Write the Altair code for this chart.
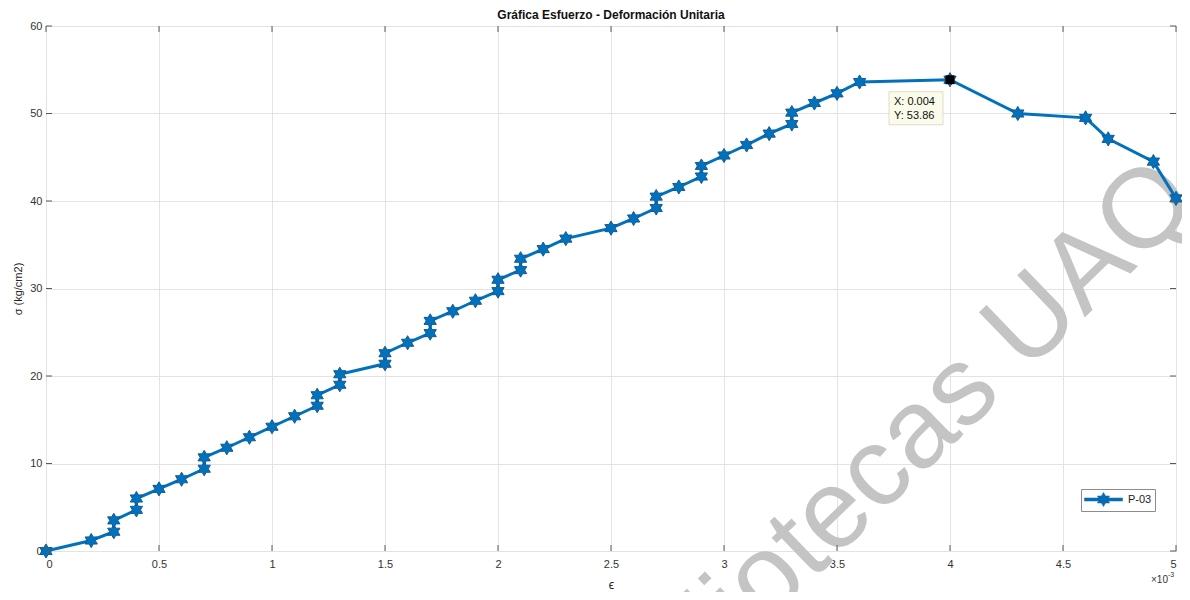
import altair as alt
import pandas as pd

# ---- data (strain in units of 1e-3) ----
STRAIN = [0, 0.2, 0.3, 0.3, 0.4, 0.4, 0.5, 0.6, 0.7, 0.7, 0.8, 0.9, 1.0, 1.1,
          1.2, 1.2, 1.3, 1.3, 1.5, 1.5, 1.6, 1.7, 1.7, 1.8, 1.9, 2.0, 2.0, 2.1,
          2.1, 2.2, 2.3, 2.5, 2.6, 2.7, 2.7, 2.8, 2.9, 2.9, 3.0, 3.1, 3.2, 3.3,
          3.3, 3.4, 3.5, 3.6, 4.0, 4.3, 4.6, 4.7, 4.9, 5.0]
STRESS = [0, 1.2, 2.2, 3.5, 4.7, 6.0, 7.1, 8.2, 9.4, 10.7, 11.8, 13.0, 14.2, 15.4,
          16.6, 17.8, 19.0, 20.2, 21.4, 22.6, 23.8, 24.9, 26.3, 27.4, 28.6, 29.7, 31.0, 32.1,
          33.4, 34.5, 35.7, 36.9, 38.0, 39.2, 40.5, 41.6, 42.8, 44.0, 45.2, 46.4, 47.7, 48.8,
          50.1, 51.2, 52.3, 53.6, 53.86, 50.0, 49.5, 47.1, 44.5, 40.3]
SERIES = "P-03"
X_TICKS = [0, 0.5, 1, 1.5, 2, 2.5, 3, 3.5, 4, 4.5, 5]
Y_TICKS = [0, 10, 20, 30, 40, 50, 60]
TIP_X = [4.0]
TIP_Y = [53.86]
TITLE = "Gráfica Esfuerzo - Deformación Unitaria"
X_TITLE = "ϵ"
Y_TITLE = "σ (kg/cm2)"
EXP_BASE = "×10"
EXP_POWER = "-3"
WATERMARK = "Bibliotecas UAQ"

W, H = 1130, 525
BLUE = "#0072BD"
AXC = "#5a5a5a"
FONT = "Liberation Sans"

STAR = ("M0,-1L0.2887,-0.5L0.866,-0.5L0.577,0L0.866,0.5L0.2887,0.5L0,1"
        "L-0.2887,0.5L-0.866,0.5L-0.577,0L-0.866,-0.5L-0.2887,-0.5Z")
# legend symbol: line segment (38px) with a star (r = 7px) at its centre, size 196 -> unit 7px
LEG = ("M-2.714,-0.214H2.714V0.214H-2.714Z "
       "M0,-1L0.2887,-0.5L0.866,-0.5L0.577,0L0.866,0.5L0.2887,0.5L0,1"
       "L-0.2887,0.5L-0.866,0.5L-0.577,0L-0.866,-0.5L-0.2887,-0.5Z")

df = pd.DataFrame({"idx": list(range(len(STRAIN))), "e": STRAIN, "s": STRESS,
                   "serie": [SERIES] * len(STRAIN)})
tip = pd.DataFrame({"e": TIP_X, "s": TIP_Y,
                    "tx": [f"X: {v / 1000:g}" for v in TIP_X],
                    "ty": [f"Y: {v}" for v in TIP_Y]})
xt = pd.DataFrame({"v": X_TICKS})
yt = pd.DataFrame({"v": Y_TICKS})

xs = alt.Scale(domain=[0, 5], nice=False, zero=False)
ys = alt.Scale(domain=[0, 60], nice=False, zero=False)

xaxis = alt.Axis(values=X_TICKS, format="~g", title=X_TITLE, grid=True, tickSize=0,
                 domain=False, labelPadding=7, titlePadding=10, labelFontSize=11,
                 titleFontSize=12, titleFontWeight="normal")
yaxis = alt.Axis(values=Y_TICKS, format="~g", title=Y_TITLE, grid=True, tickSize=0,
                 domain=False, labelPadding=4, titlePadding=6, labelFontSize=11,
                 titleFontSize=11, titleFontWeight="normal")

base = alt.Chart(df)

watermark = alt.Chart(pd.DataFrame({"t": [WATERMARK]})).mark_text(
    font=FONT, fontSize=112, angle=316, align="center", baseline="middle",
    color="#c4c4c4"
).encode(text="t:N", x=alt.value(838), y=alt.value(438))

title = alt.Chart(pd.DataFrame({"t": [TITLE]})).mark_text(
    font=FONT, fontSize=12, fontWeight="bold", color="#111", align="center",
    baseline="alphabetic"
).encode(text="t:N", x=alt.value(W / 2), y=alt.value(-7))

line = base.mark_line(color=BLUE, strokeWidth=3).encode(
    x=alt.X("e:Q", scale=xs, axis=xaxis),
    y=alt.Y("s:Q", scale=ys, axis=yaxis),
    order="idx:Q",
)

points = base.mark_point(shape=STAR, filled=True, size=200, opacity=1,
                         stroke="#155a91", strokeWidth=1).encode(
    x=alt.X("e:Q", scale=xs),
    y=alt.Y("s:Q", scale=ys),
    color=alt.Color("serie:N", scale=alt.Scale(range=[BLUE]),
                    legend=alt.Legend(orient="none", legendX=1035, legendY=463,
                                      title=None, symbolType=LEG, symbolSize=196,
                                      symbolOffset=12, labelOffset=17,
                                      symbolFillColor=BLUE, symbolStrokeColor="#155a91",
                                      symbolStrokeWidth=0.5, labelFontSize=11,
                                      labelFont=FONT, labelColor="#222",
                                      padding=3,
                                      strokeColor="#8c8c8c", fillColor="white",
                                      cornerRadius=0)),
)

tick_b = alt.Chart(xt).mark_rule(color=AXC).encode(
    x=alt.X("v:Q", scale=xs), y=alt.value(H), y2=alt.value(H - 6))
tick_t = alt.Chart(xt).mark_rule(color=AXC).encode(
    x=alt.X("v:Q", scale=xs), y=alt.value(0), y2=alt.value(6))
tick_l = alt.Chart(yt).mark_rule(color=AXC).encode(
    y=alt.Y("v:Q", scale=ys), x=alt.value(0), x2=alt.value(6))
tick_r = alt.Chart(yt).mark_rule(color=AXC).encode(
    y=alt.Y("v:Q", scale=ys), x=alt.value(W), x2=alt.value(W - 6))

tipc = alt.Chart(tip)
tip_box = tipc.mark_rect(fill="#fbfbe9", stroke="#c9c9b5", strokeWidth=0.6,
                         xOffset=-61, x2Offset=-7, yOffset=12, y2Offset=45).encode(
    x=alt.X("e:Q", scale=xs), x2="e:Q", y=alt.Y("s:Q", scale=ys), y2="s:Q")
tip_sq = tipc.mark_square(color="black", size=80, opacity=1).encode(
    x=alt.X("e:Q", scale=xs), y=alt.Y("s:Q", scale=ys))
tip_t1 = tipc.mark_text(align="left", baseline="middle", dx=-56, dy=22, fontSize=11,
                        font=FONT, color="#111").encode(
    x=alt.X("e:Q", scale=xs), y=alt.Y("s:Q", scale=ys), text="tx:N")
tip_t2 = tipc.mark_text(align="left", baseline="middle", dx=-56, dy=36, fontSize=11,
                        font=FONT, color="#111").encode(
    x=alt.X("e:Q", scale=xs), y=alt.Y("s:Q", scale=ys), text="ty:N")

expdf = pd.DataFrame({"v": [X_TICKS[-1]], "b": [EXP_BASE], "p": [EXP_POWER]})
exp_b = alt.Chart(expdf).mark_text(align="right", baseline="middle", dx=-8,
                                   fontSize=10, font=FONT, color="#333").encode(
    x=alt.X("v:Q", scale=xs), y=alt.value(H + 29), text="b:N")
exp_p = alt.Chart(expdf).mark_text(align="left", baseline="middle", dx=-8,
                                   fontSize=7, font=FONT, color="#333").encode(
    x=alt.X("v:Q", scale=xs), y=alt.value(H + 24), text="p:N")

chart = alt.layer(
    watermark, line, points, tick_b, tick_t, tick_l, tick_r,
    tip_box, tip_sq, tip_t1, tip_t2, exp_b, exp_p, title
).properties(
    width=W, height=H,
    padding={"left": 38, "top": 18, "right": 6, "bottom": 41},
    autosize=alt.AutoSizeParams(type="none"),
).configure_view(
    stroke=AXC, strokeWidth=1
).configure_axis(
    labelFont=FONT, titleFont=FONT, labelColor="#333", titleColor="#222",
    gridColor="#e3e3e3", gridWidth=1
)

chart.save("out.html", embed_options={"renderer": "svg", "actions": False})
